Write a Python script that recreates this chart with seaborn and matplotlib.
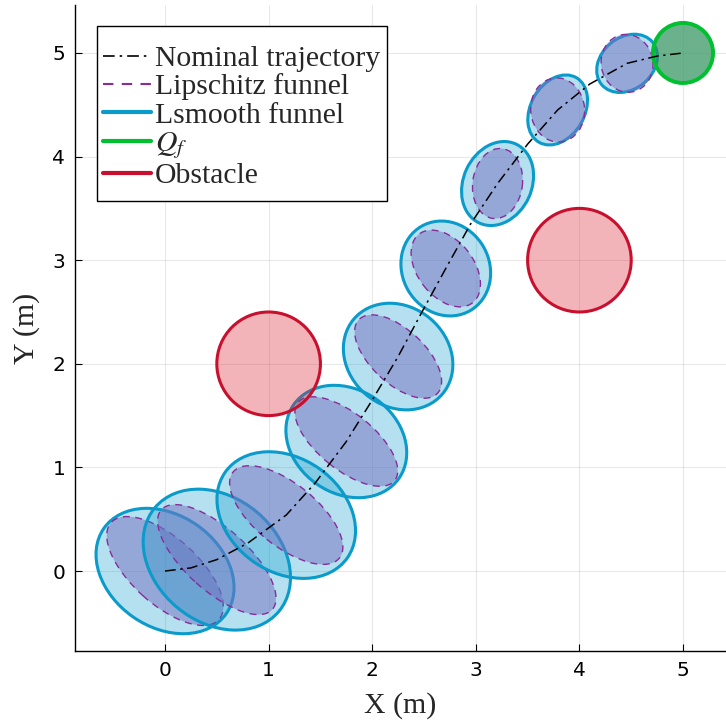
import matplotlib
matplotlib.use("Agg")
import matplotlib.pyplot as plt
from matplotlib.patches import Ellipse, Circle, Rectangle
from matplotlib.lines import Line2D
import seaborn as sns
import pandas as pd

# Nominal trajectory (m)
traj_x = [0.00, 0.25, 0.50, 0.80, 1.17, 1.45, 1.75, 2.00, 2.25, 2.48, 2.71,
          2.95, 3.21, 3.50, 3.79, 4.10, 4.46, 4.75, 5.00]
traj_y = [0.00, 0.03, 0.11, 0.27, 0.54, 0.85, 1.25, 1.65, 2.07, 2.50, 2.92,
          3.35, 3.74, 4.12, 4.45, 4.70, 4.90, 4.97, 5.00]

# Funnel knot centres along the trajectory
knot_x = [0.00, 0.50, 1.17, 1.75, 2.25, 2.71, 3.21, 3.79, 4.46]
knot_y = [0.00, 0.11, 0.54, 1.25, 2.07, 2.92, 3.74, 4.45, 4.90]

# Lsmooth funnel ellipses: semi-axes and orientation (deg)
lsmooth_a = [0.72, 0.78, 0.72, 0.62, 0.56, 0.47, 0.42, 0.36, 0.32]
lsmooth_b = [0.54, 0.60, 0.55, 0.50, 0.48, 0.42, 0.33, 0.26, 0.25]
lsmooth_ang = [-35, -40, -35, -35, -40, -60, 65, 60, 40]

# Lipschitz funnel ellipses
lip_a = [0.70, 0.72, 0.66, 0.60, 0.52, 0.42, 0.34, 0.31, 0.28]
lip_b = [0.32, 0.30, 0.30, 0.27, 0.26, 0.27, 0.24, 0.26, 0.25]
lip_ang = [-42, -42, -39, -39, -43, -52, 82, 95, 100]

# Goal region and obstacles
goal_center = (5.0, 5.0)
goal_radius = 0.29
obstacle_x = [1.0, 4.0]
obstacle_y = [2.0, 3.0]
obstacle_r = [0.5, 0.5]

x_ticks = [0, 1, 2, 3, 4, 5]
y_ticks = [0, 1, 2, 3, 4, 5]

sns.set_theme(style="ticks")
plt.rcParams["font.family"] = ["DejaVu Sans"]
plt.rcParams["mathtext.fontset"] = "stix"

C_SMOOTH = "#0a9bcb"
C_LIP_EDGE = "#8a2b9a"
C_LIP_FILL = (118 / 255, 112 / 255, 192 / 255)
C_GOAL_EDGE = "#00c030"
C_GOAL_FILL = (45 / 255, 145 / 255, 90 / 255)
C_OBS_EDGE = "#c8102e"
C_OBS_FILL = (220 / 255, 30 / 255, 45 / 255)
SERIF = ["Liberation Serif", "DejaVu Serif"]

fig = plt.figure(figsize=(7.26, 7.24), dpi=100)
ax = fig.add_axes([75 / 726, 73 / 724, 651 / 726, 646 / 724])

ax.grid(True, color="black", alpha=0.09, linewidth=0.8)
ax.set_axisbelow(True)

# Funnels: Lsmooth under Lipschitz at each knot
z = 2
for i in range(len(knot_x)):
    c = (knot_x[i], knot_y[i])
    ax.add_patch(Ellipse(c, 2 * lsmooth_a[i], 2 * lsmooth_b[i], angle=lsmooth_ang[i],
                         facecolor=(*matplotlib.colors.to_rgb(C_SMOOTH), 0.30),
                         edgecolor=C_SMOOTH, linewidth=2.2, zorder=z))
    ax.add_patch(Ellipse(c, 2 * lip_a[i], 2 * lip_b[i], angle=lip_ang[i],
                         facecolor=(*C_LIP_FILL, 0.5), edgecolor=C_LIP_EDGE,
                         linewidth=1.0, linestyle=(0, (5, 4)), zorder=z + 1))
    z += 2

# Obstacles
for ox, oy, r in zip(obstacle_x, obstacle_y, obstacle_r):
    ax.add_patch(Circle((ox, oy), r, facecolor=(*C_OBS_FILL, 0.33),
                        edgecolor=C_OBS_EDGE, linewidth=2.2, zorder=z))

# Goal region
ax.add_patch(Circle(goal_center, goal_radius, facecolor=(*C_GOAL_FILL, 0.7),
                    edgecolor=C_GOAL_EDGE, linewidth=2.8, zorder=z + 1))

# Nominal trajectory
df = pd.DataFrame({"x": traj_x, "y": traj_y})
sns.lineplot(data=df, x="x", y="y", sort=False, estimator=None, ax=ax,
             color="black", linewidth=1.1, zorder=z + 2)
ax.lines[-1].set_linestyle((0, (7, 3, 1.5, 3)))

ax.set_xlim(-0.869, 5.415)
ax.set_ylim(-0.772, 5.463)
ax.set_xticks(x_ticks)
ax.set_yticks(y_ticks)
ax.tick_params(direction="in", length=5, width=0.8, labelsize=14.5, pad=7,
               colors="black")
for s in ["top", "right"]:
    ax.spines[s].set_visible(False)
for s in ["left", "bottom"]:
    ax.spines[s].set_linewidth(1.0)
    ax.spines[s].set_color("black")

ax.set_xlabel("X (m)", fontsize=21.5, family=SERIF, labelpad=9)
ax.set_ylabel("Y (m)", fontsize=21.5, family=SERIF, labelpad=9)

# Legend box with a plain rectangular frame
ax.add_patch(Rectangle((0.0338, 0.6966), 0.4454, 0.2709, transform=ax.transAxes,
                       facecolor="white", edgecolor="black", linewidth=1.0,
                       zorder=99, clip_on=False))
handles = [
    Line2D([], [], color="black", linewidth=1.2, linestyle=(0, (7, 3, 1.5, 3))),
    Line2D([], [], color=C_LIP_EDGE, linewidth=1.5, linestyle=(0, (5, 4))),
    Line2D([], [], color=C_SMOOTH, linewidth=3.0),
    Line2D([], [], color=C_GOAL_EDGE, linewidth=3.0),
    Line2D([], [], color=C_OBS_EDGE, linewidth=3.0),
]
labels = ["Nominal trajectory", "Lipschitz funnel", "Lsmooth funnel", "$Q_f$", "Obstacle"]
leg = ax.legend(handles, labels, loc="upper left", bbox_to_anchor=(0.034, 0.947),
                borderaxespad=0, frameon=False,
                prop={"family": SERIF, "size": 21.4},
                handlelength=1.6, handletextpad=0.15, labelspacing=0.05,
                borderpad=0.2)
leg.set_zorder(100)

fig.savefig("out.png", dpi=100)
